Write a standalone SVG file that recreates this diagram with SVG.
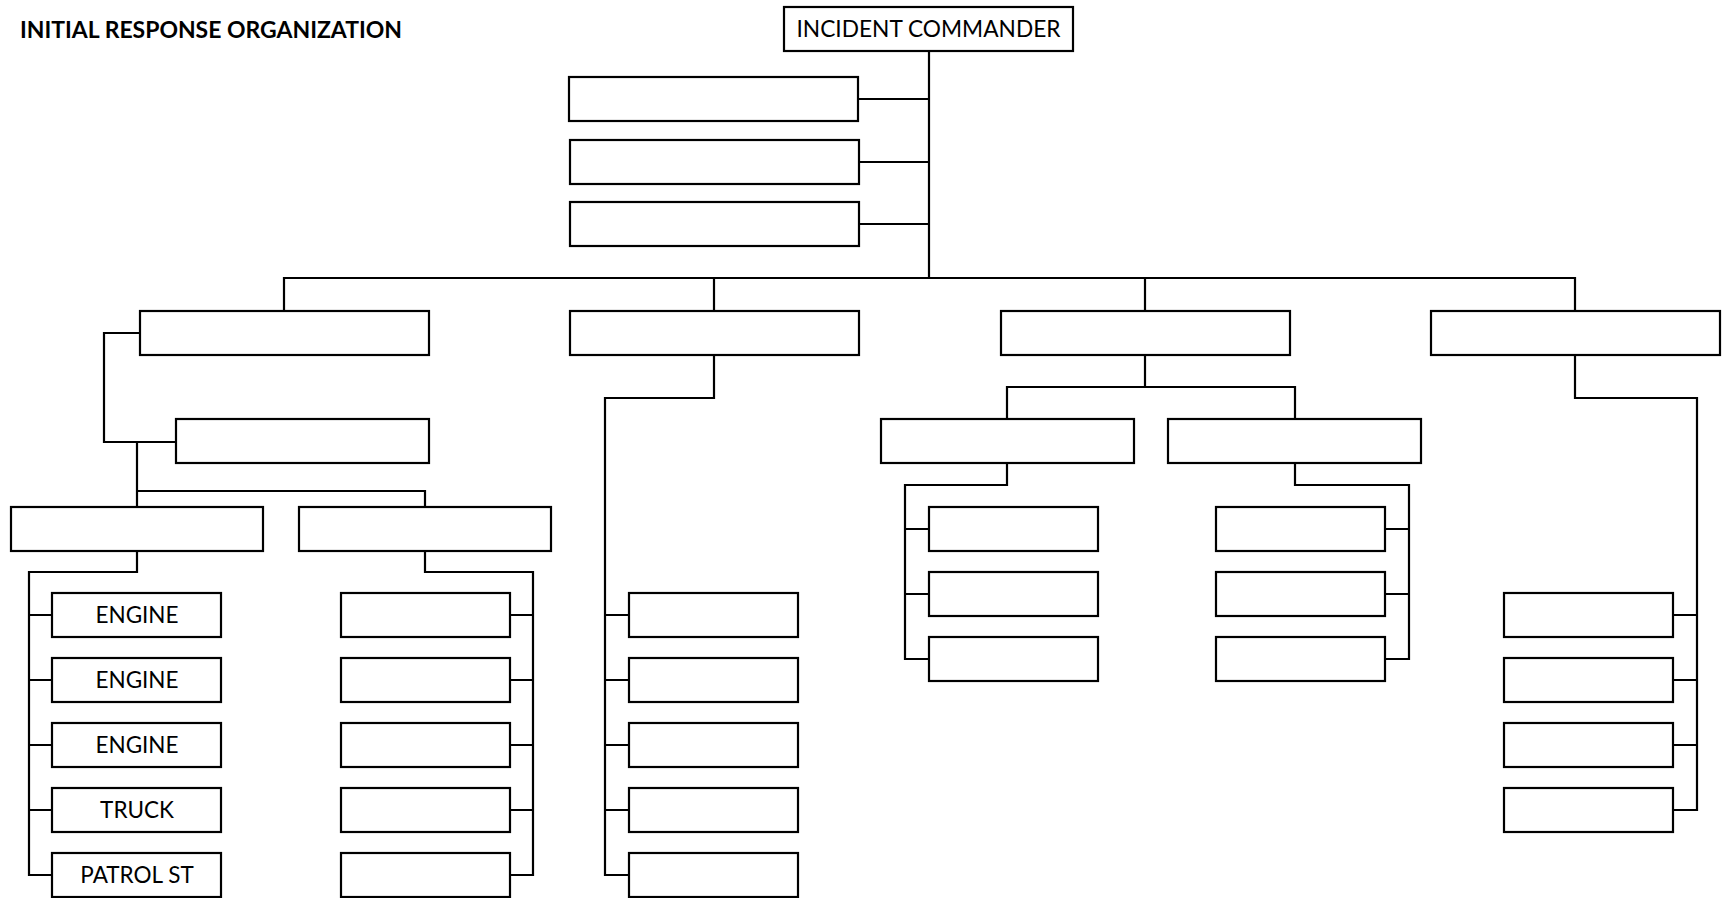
<svg xmlns="http://www.w3.org/2000/svg" width="1725" height="898" viewBox="0 0 1725 898">
<style>
.b{fill:#fff;stroke:#000;stroke-width:2.2}
.c{fill:none;stroke:#000;stroke-width:2.2;stroke-linecap:square}
.t{font-family:Lato,"Open Sans","Liberation Sans",sans-serif;font-size:22.5px;fill:#000;text-anchor:middle}
.h{font-family:Lato,"Open Sans","Liberation Sans",sans-serif;font-size:22.5px;font-weight:bold;fill:#000}
</style>
<rect width="1725" height="898" fill="#fff"/>
<text class="h" x="20" y="37.5" textLength="382" lengthAdjust="spacingAndGlyphs">INITIAL RESPONSE ORGANIZATION</text>
<g id="connectors">
<path class="c" d="M929,51V278M858,99H929M858,162H929M858,224H929"/>
<path class="c" d="M284,278H1575M284,278V311M714,278V311M1145,278V311M1575,278V311"/>
<path class="c" d="M140,333H104V442H176M137,442V507M137,491H425V507"/>
<path class="c" d="M137,550V572H29V875M29,615H52M29,680H52M29,745H52M29,810H52M29,875H52"/>
<path class="c" d="M425,550V572H533V875M510,615H533M510,680H533M510,745H533M510,810H533M510,875H533"/>
<path class="c" d="M714,354V398H605V875M605,615H629M605,680H629M605,745H629M605,810H629M605,875H629"/>
<path class="c" d="M1145,354V387M1007,387H1295M1007,387V419M1295,387V419"/>
<path class="c" d="M1007,463V485H905V659M905,529H929M905,594H929M905,659H929"/>
<path class="c" d="M1295,463V485H1409V659M1385,529H1409M1385,594H1409M1385,659H1409"/>
<path class="c" d="M1575,354V398H1697V810M1673,615H1697M1673,680H1697M1673,745H1697M1673,810H1697"/>
</g>
<g id="ic"><rect class="b" x="784" y="7" width="289" height="44"/><text class="t" x="928.5" y="36.5" textLength="264" lengthAdjust="spacingAndGlyphs">INCIDENT COMMANDER</text></g>
<g id="staff1"><rect class="b" x="569" y="77" width="289" height="44"/></g>
<g id="staff2"><rect class="b" x="570" y="140" width="289" height="44"/></g>
<g id="staff3"><rect class="b" x="570" y="202" width="289" height="44"/></g>
<g id="sec1"><rect class="b" x="140" y="311" width="289" height="44"/></g>
<g id="sec2"><rect class="b" x="570" y="311" width="289" height="44"/></g>
<g id="sec3"><rect class="b" x="1001" y="311" width="289" height="44"/></g>
<g id="sec4"><rect class="b" x="1431" y="311" width="289" height="44"/></g>
<g id="sec1sub"><rect class="b" x="176" y="419" width="253" height="44"/></g>
<g id="div1"><rect class="b" x="11" y="507" width="252" height="44"/></g>
<g id="div2"><rect class="b" x="299" y="507" width="252" height="44"/></g>
<g id="sec3a"><rect class="b" x="881" y="419" width="253" height="44"/></g>
<g id="sec3b"><rect class="b" x="1168" y="419" width="253" height="44"/></g>
<g id="u1"><rect class="b" x="52" y="593" width="169" height="44"/><text class="t" x="137" y="623">ENGINE</text></g>
<g id="u2"><rect class="b" x="52" y="658" width="169" height="44"/><text class="t" x="137" y="688">ENGINE</text></g>
<g id="u3"><rect class="b" x="52" y="723" width="169" height="44"/><text class="t" x="137" y="753">ENGINE</text></g>
<g id="u4"><rect class="b" x="52" y="788" width="169" height="44"/><text class="t" x="137" y="818">TRUCK</text></g>
<g id="u5"><rect class="b" x="52" y="853" width="169" height="44"/><text class="t" x="137" y="883">PATROL ST</text></g>
<g id="v1"><rect class="b" x="341" y="593" width="169" height="44"/></g>
<g id="v2"><rect class="b" x="341" y="658" width="169" height="44"/></g>
<g id="v3"><rect class="b" x="341" y="723" width="169" height="44"/></g>
<g id="v4"><rect class="b" x="341" y="788" width="169" height="44"/></g>
<g id="v5"><rect class="b" x="341" y="853" width="169" height="44"/></g>
<g id="w1"><rect class="b" x="629" y="593" width="169" height="44"/></g>
<g id="w2"><rect class="b" x="629" y="658" width="169" height="44"/></g>
<g id="w3"><rect class="b" x="629" y="723" width="169" height="44"/></g>
<g id="w4"><rect class="b" x="629" y="788" width="169" height="44"/></g>
<g id="w5"><rect class="b" x="629" y="853" width="169" height="44"/></g>
<g id="x1"><rect class="b" x="929" y="507" width="169" height="44"/></g>
<g id="x2"><rect class="b" x="929" y="572" width="169" height="44"/></g>
<g id="x3"><rect class="b" x="929" y="637" width="169" height="44"/></g>
<g id="y1"><rect class="b" x="1216" y="507" width="169" height="44"/></g>
<g id="y2"><rect class="b" x="1216" y="572" width="169" height="44"/></g>
<g id="y3"><rect class="b" x="1216" y="637" width="169" height="44"/></g>
<g id="z1"><rect class="b" x="1504" y="593" width="169" height="44"/></g>
<g id="z2"><rect class="b" x="1504" y="658" width="169" height="44"/></g>
<g id="z3"><rect class="b" x="1504" y="723" width="169" height="44"/></g>
<g id="z4"><rect class="b" x="1504" y="788" width="169" height="44"/></g>
</svg>
